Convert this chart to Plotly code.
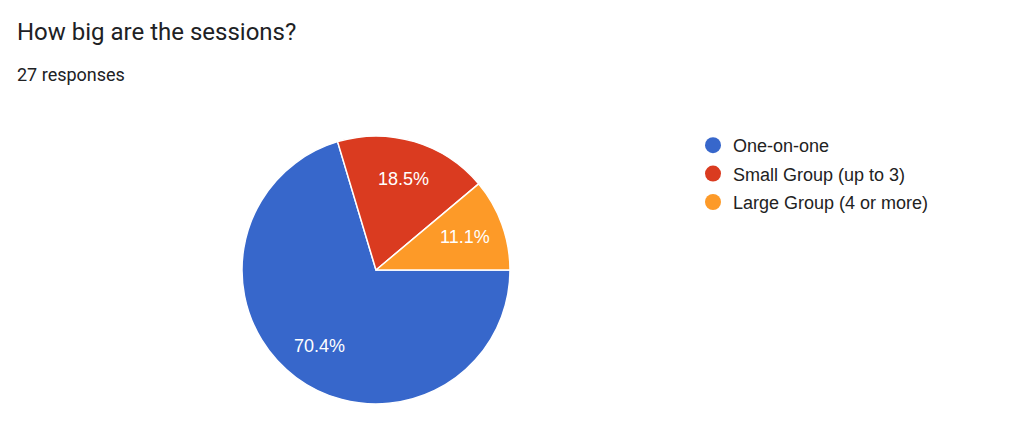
import math
import plotly.graph_objects as go

labels = ["One-on-one", "Small Group (up to 3)", "Large Group (4 or more)"]
counts = [19, 5, 3]
colors = ["#3767cb", "#da3b20", "#fd9a28"]
title_text = "How big are the sessions?"
subtitle_text = "27 responses"

W, H = 1024, 444
OFF = 8  # page body margin of the browser
cx, cy, r = 376 - OFF, 270 - OFF, 134  # pie centre / radius in px (figure coords)

fig = go.Figure()
fig.add_trace(go.Pie(
    labels=labels, values=counts, sort=False, direction="clockwise", rotation=90,
    marker=dict(colors=colors, line=dict(color="white", width=1.5)),
    textinfo="none", hoverinfo="label+percent", showlegend=False,
    domain=dict(x=[(cx - r) / W, (cx + r) / W], y=[(H - cy - r) / H, (H - cy + r) / H]),
))

# legend entries with circular symbols
for lab, col in zip(labels, colors):
    fig.add_trace(go.Scatter(x=[None], y=[None], mode="markers", name=lab, legendgroup=lab,
                             marker=dict(color=col, size=16, symbol="circle")))

# percentage labels placed along each slice's mid-angle
total = sum(counts)
start = 0.0  # degrees, 3 o'clock, clockwise
for v in counts:
    frac = v / total
    mid = start - frac * 360 / 2
    px = cx + 0.71 * r * math.cos(math.radians(mid))
    py = cy - 0.71 * r * math.sin(math.radians(mid))
    fig.add_annotation(x=px / W, y=1 - py / H, xref="paper", yref="paper",
                       xanchor="center", yanchor="middle",
                       text=f"{frac*100:.1f}%", showarrow=False,
                       font=dict(family="Liberation Sans, Arial", size=18, color="white"))
    start -= frac * 360

fig.add_annotation(x=7 / W, y=1 - 24 / H, xref="paper", yref="paper", xanchor="left", yanchor="middle",
                   text=title_text, showarrow=False,
                   font=dict(family="Roboto", size=24, color="#202124"))
fig.add_annotation(x=7 / W, y=1 - 66 / H, xref="paper", yref="paper", xanchor="left", yanchor="middle",
                   text=subtitle_text, showarrow=False,
                   font=dict(family="Roboto", size=18, color="#202124"))

fig.update_layout(
    width=W, height=H, margin=dict(l=0, r=0, t=0, b=0),
    paper_bgcolor="white", plot_bgcolor="white",
    xaxis=dict(visible=False), yaxis=dict(visible=False),
    legend=dict(x=685 / W, y=1 - 119 / H, xanchor="left", yanchor="top",
                font=dict(family="Liberation Sans, Arial", size=18, color="#222222"),
                tracegroupgap=2, itemsizing="trace", bgcolor="rgba(0,0,0,0)"),
)
fig.write_html("out.html")
